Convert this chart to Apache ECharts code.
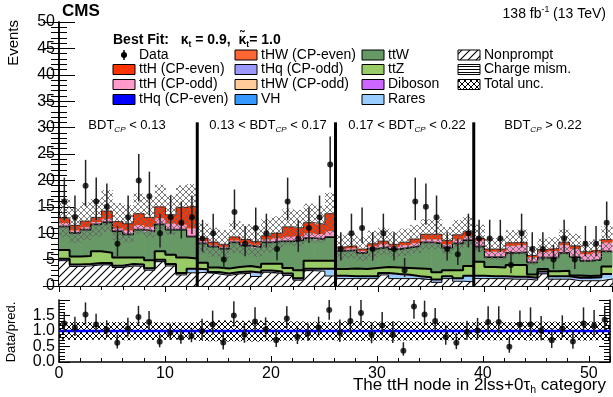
<!DOCTYPE html>
<html>
<head>
<meta charset="utf-8">
<script src="https://cdn.jsdelivr.net/npm/echarts@6/dist/echarts.min.js"></script>
<style>
  html, body { margin: 0; padding: 0; background: #fff; }
  #chart { width: 613px; height: 397px; }
</style>
</head>
<body>
<div id="chart"></div>
<script>
// ---- data (52 bins, 4 BDT_CP regions of 13 bins) ----
const dataObs = [16, 13, 19, 16, 15, 8, 13, 20, 17, 10, 13, 12, 13,
                 9, 10, 5, 14, 8, 11, 10, 7, 16, 9, 11, 13, 23,
                 7, 10, 11, 7, 10, 7, 3, 16, 15, 13, 7, 6, 10,
                 9, 9, 9, 4, 10, 7, 7, 5, 9, 5, 8, 8, 12];

const ratioObs = [1.24, 1.11, 1.53, 1.21, 1.04, 0.62, 1.08, 1.45, 1.29, 0.65, 0.94, 0.79, 0.84,
                  1.00, 1.21, 0.63, 1.50, 0.88, 1.31, 1.05, 0.70, 1.40, 0.81, 0.92, 1.11, 1.68,
                  0.94, 1.32, 1.58, 0.88, 1.18, 0.89, 0.36, 1.79, 1.53, 1.32, 0.81, 0.62, 0.97,
                  1.02, 1.29, 1.29, 0.49, 1.21, 1.21, 1.02, 0.70, 1.08, 0.66, 1.24, 1.18, 1.36];

const nonprompt = [4.8, 3.7, 3.8, 4.0, 4.0, 3.5, 3.8, 3.7, 3.0, 4.6, 3.8, 2.1, 2.5,
                   2.6, 2.3, 2.0, 2.3, 2.4, 1.8, 2.6, 2.4, 2.0, 1.1, 2.9, 2.8, 1.9,
                   1.4, 1.4, 1.4, 1.4, 2.1, 1.4, 1.4, 1.4, 1.2, 0.7, 1.4, 0.9, 0.8,
                   1.4, 1.4, 1.4, 1.3, 1.3, 1.1, 2.3, 1.3, 1.3, 1.0, 1.0, 1.0, 1.3];

const chargeMis = [0.1, 0.1, 0.1, 0.1, 0.1, 0.1, 0.1, 0.1, 0.1, 0.1, 0.1, 0.1, 0.1,
                   0.1, 0.1, 0.1, 0.1, 0.1, 0.1, 0.1, 0.1, 0.1, 0.1, 0.1, 0.1, 0.1,
                   0.1, 0.1, 0.1, 0.1, 0.1, 0.1, 0.1, 0.1, 0.1, 0.1, 0.1, 0.1, 0.1,
                   0.1, 0.1, 0.1, 0.1, 0.1, 0.1, 0.1, 0.1, 0.1, 0.1, 0.1, 0.1, 0.1];

const rares = [0.1, 0.1, 0.1, 0.1, 0.1, 0.1, 0.1, 0.1, 0.1, 0.1, 0.1, 0.1, 0.5,
               0.3, 0.1, 0.1, 0.1, 0.1, 0.5, 0.1, 0.1, 0.1, 0.1, 0.1, 0.2, 1.1,
               0.3, 0.2, 0.2, 0.2, 0.1, 0.6, 0.5, 0.2, 0.2, 0.3, 0.2, 0.3, 0.9,
               0.3, 0.2, 0.2, 0.2, 0.2, 0.2, 0.2, 0.3, 0.3, 0.3, 0.3, 0.4, 0.7];

const diboson = [0.1, 0.1, 0.1, 0.1, 0.1, 0.1, 0.1, 0.1, 0.1, 0.1, 0.1, 0.1, 0.1,
                 0.1, 0.1, 0.1, 0.1, 0.1, 0.1, 0.1, 0.1, 0.1, 0.1, 0.1, 0.1, 0.1,
                 0.1, 0.1, 0.1, 0.1, 0.1, 0.1, 0.1, 0.1, 0.1, 0.1, 0.1, 0.1, 0.1,
                 0.1, 0.1, 0.1, 0.1, 0.1, 0.1, 0.1, 0.1, 0.1, 0.1, 0.1, 0.1, 0.1];

const vh = [0.05, 0.05, 0.05, 0.05, 0.05, 0.05, 0.05, 0.05, 0.05, 0.05, 0.05, 0.05, 0.05,
            0.05, 0.05, 0.05, 0.05, 0.05, 0.05, 0.05, 0.05, 0.05, 0.05, 0.05, 0.05, 0.05,
            0.05, 0.05, 0.05, 0.05, 0.05, 0.05, 0.05, 0.05, 0.05, 0.05, 0.05, 0.05, 0.05,
            0.05, 0.05, 0.05, 0.05, 0.05, 0.05, 0.05, 0.05, 0.05, 0.05, 0.05, 0.05, 0.05];

const ttZ = [1.65, 1.55, 1.55, 2.25, 1.95, 1.55, 1.25, 1.35, 1.55, 1.65, 1.75, 2.95, 1.95,
             1.25, 0.85, 0.95, 0.95, 1.05, 0.95, 1.25, 1.45, 1.05, 1.55, 1.55, 1.55, 1.55,
             1.25, 1.45, 1.35, 1.55, 1.15, 1.25, 1.25, 1.45, 1.55, 1.35, 1.15, 1.55, 1.85,
             2.65, 1.75, 1.65, 2.25, 2.25, 0.65, 0.45, 0.95, 1.05, 0.45, 0.35, 0.35, 1.45];

const ttW = [4.4, 4.4, 4.9, 5.0, 5.7, 4.9, 4.3, 5.2, 5.4, 5.0, 4.7, 5.2, 4.1,
             3.6, 3.9, 3.7, 4.6, 3.8, 3.8, 4.0, 4.2, 5.0, 5.6, 4.2, 4.0, 4.4,
             3.4, 3.4, 3.0, 3.6, 3.7, 3.4, 3.8, 4.2, 5.0, 5.4, 4.2, 5.0, 4.8,
             2.8, 1.8, 1.9, 2.2, 2.3, 2.2, 2.1, 2.5, 3.3, 3.4, 2.8, 2.9, 2.8];

const tHW = [0.05, 0.05, 0.05, 0.05, 0.05, 0.05, 0.05, 0.05, 0.05, 0.05, 0.05, 0.05, 0.05,
             0.05, 0.05, 0.05, 0.05, 0.05, 0.05, 0.05, 0.05, 0.05, 0.05, 0.05, 0.05, 0.05,
             0.05, 0.05, 0.05, 0.05, 0.05, 0.05, 0.05, 0.05, 0.05, 0.05, 0.05, 0.05, 0.05,
             0.05, 0.05, 0.05, 0.05, 0.05, 0.05, 0.05, 0.05, 0.05, 0.05, 0.05, 0.05, 0.05];

const tHq = [0.1, 0.1, 0.1, 0.1, 0.1, 0.1, 0.1, 0.1, 0.1, 0.1, 0.1, 0.1, 0.1,
             0.1, 0.1, 0.1, 0.1, 0.1, 0.1, 0.1, 0.1, 0.1, 0.1, 0.1, 0.1, 0.1,
             0.1, 0.1, 0.1, 0.1, 0.1, 0.1, 0.1, 0.1, 0.1, 0.1, 0.1, 0.1, 0.1,
             0.1, 0.1, 0.1, 0.1, 0.1, 0.1, 0.1, 0.1, 0.1, 0.1, 0.1, 0.1, 0.1];

const ttHodd = [0.55, 0.35, 0.35, 0.35, 0.55, 0.45, 0.65, 0.75, 0.75, 1.05, 1.05, 0.85, 1.45,
                0.35, 0.25, 0.25, 0.25, 0.35, 0.35, 0.45, 0.45, 0.75, 0.65, 0.85, 0.85, 1.05,
                0.25, 0.25, 0.25, 0.35, 0.45, 0.35, 0.35, 0.45, 0.45, 0.65, 0.55, 0.65, 0.65,
                1.05, 0.95, 0.95, 1.25, 1.25, 0.85, 0.95, 1.15, 1.35, 1.45, 1.15, 1.25, 1.55];

const ttHeven = [1.0, 1.0, 1.2, 0.9, 1.5, 1.3, 1.3, 2.2, 1.8, 2.2, 1.7, 3.3, 4.2,
                 0.5, 0.5, 0.5, 0.7, 0.7, 0.6, 0.7, 1.0, 1.9, 1.6, 2.0, 1.9, 3.3,
                 0.4, 0.5, 0.4, 0.5, 0.6, 0.5, 0.6, 0.8, 1.0, 1.0, 0.7, 0.9, 0.9,
                 0.4, 0.5, 0.5, 0.6, 0.6, 0.4, 0.5, 0.5, 0.6, 0.6, 0.5, 0.5, 0.6];

// relative total uncertainty per bin
const relUnc = [0.28, 0.29, 0.29, 0.28, 0.28, 0.29, 0.30, 0.28, 0.29, 0.28, 0.28, 0.28, 0.28,
                0.32, 0.33, 0.34, 0.33, 0.33, 0.34, 0.33, 0.32, 0.31, 0.31, 0.30, 0.30, 0.29,
                0.31, 0.31, 0.32, 0.31, 0.30, 0.31, 0.31, 0.30, 0.29, 0.29, 0.30, 0.29, 0.28,
                0.29, 0.30, 0.30, 0.29, 0.29, 0.31, 0.30, 0.30, 0.29, 0.30, 0.31, 0.30, 0.29];

const categoryEdges = [13, 26, 39];
const regionLabels = [['', ' < 0.13'], ['0.13 < ', ' < 0.17'], ['0.17 < ', ' < 0.22'], ['', ' > 0.22']];
const xTicks = [0, 10, 20, 30, 40, 50];
const yTicksMain = [0, 5, 10, 15, 20, 25, 30, 35, 40, 45, 50];
const yTicksRatio = [0, 0.5, 1.0, 1.5];

const FONT = '"Liberation Sans", Arial, Helvetica, sans-serif';

// ---- fill patterns ----
function makePattern(size, draw) {
  const c = document.createElement('canvas');
  c.width = size; c.height = size;
  draw(c.getContext('2d'), size);
  return { image: c, repeat: 'repeat' };
}
const hatchDiag = makePattern(8, (ctx, s) => {
  ctx.fillStyle = '#fff'; ctx.fillRect(0, 0, s, s);
  ctx.strokeStyle = '#000'; ctx.lineWidth = 1.1;
  ctx.beginPath();
  ctx.moveTo(0, s); ctx.lineTo(s, 0);
  ctx.moveTo(-2, 2); ctx.lineTo(2, -2);
  ctx.moveTo(s - 2, s + 2); ctx.lineTo(s + 2, s - 2);
  ctx.stroke();
});
const hatchHoriz = makePattern(3, (ctx, s) => {
  ctx.fillStyle = '#fff'; ctx.fillRect(0, 0, s, s);
  ctx.fillStyle = '#000'; ctx.fillRect(0, 0, s, 1);
});
function crossPattern(color, size) {
  return makePattern(size, (ctx, s) => {
    ctx.strokeStyle = color; ctx.lineWidth = 1;
    ctx.beginPath();
    ctx.moveTo(0, 0); ctx.lineTo(s, s);
    ctx.moveTo(0, s); ctx.lineTo(s, 0);
    ctx.stroke();
  });
}
const crossGrey = crossPattern('rgba(100,100,100,0.85)', 6);
const crossBlack = crossPattern('#000', 6);

// ---- stack order (bottom -> top) ----
const stackDefs = [
  { vals: nonprompt, fill: hatchDiag },
  { vals: chargeMis, fill: hatchHoriz },
  { vals: rares, fill: '#99ccff' },
  { vals: diboson, fill: '#cc66ff' },
  { vals: vh, fill: '#3399ff' },
  { vals: ttZ, fill: '#99cc66' },
  { vals: ttW, fill: '#669966' },
  { vals: tHW, fill: '#ff6633' },
  { vals: tHq, fill: '#9999ff' },
  { vals: ttHodd, fill: '#ff99cc' },
  { vals: ttHeven, fill: '#ff3300' }
];
const cum = [];
let run = dataObs.map(() => 0);
stackDefs.forEach(d => {
  const base = run.slice();
  run = run.map((v, i) => v + d.vals[i]);
  cum.push({ base, top: run.slice(), fill: d.fill });
});
const total = run;

function rectSeries(items, fill, xi, yi, z) {
  return {
    type: 'custom', xAxisIndex: xi, yAxisIndex: yi, z, silent: true,
    data: items,
    renderItem: (params, api) => {
      const i = api.value(0);
      const p0 = api.coord([i, api.value(1)]);
      const p1 = api.coord([i + 1, api.value(2)]);
      return {
        type: 'rect',
        shape: { x: p0[0], y: p1[1], width: p1[0] - p0[0] + 0.6, height: p0[1] - p1[1] },
        style: { fill }
      };
    }
  };
}
function stepSeries(tops, width, z) {
  const pts = tops.map((v, i) => [i, v]);
  pts.push([tops.length, tops[tops.length - 1]]);
  return {
    type: 'line', step: 'end', symbol: 'none', xAxisIndex: 0, yAxisIndex: 0, z,
    silent: true, data: pts, lineStyle: { color: '#000', width }
  };
}
function errSeries(items, xi, yi, z) {
  return {
    type: 'custom', xAxisIndex: xi, yAxisIndex: yi, z, silent: true, data: items,
    renderItem: (params, api) => {
      const a = api.coord([api.value(0), api.value(1)]);
      const b = api.coord([api.value(0), api.value(2)]);
      return { type: 'line', shape: { x1: a[0], y1: a[1], x2: b[0], y2: b[1] },
               style: { stroke: '#222', lineWidth: 1.5 } };
    }
  };
}

function poisson(n) {
  const s = Math.sqrt(n + 0.25);
  return [Math.max(0, n - s + 0.5), n + s + 0.5];
}

const series = [];
cum.forEach(c => {
  series.push(rectSeries(c.base.map((b, i) => [i, b, c.top[i]]), c.fill, 0, 0, 2));
});
// outlines
series.push(stepSeries(cum[0].top, 1, 3));
series.push(stepSeries(cum[4].top, 2, 3));
series.push(stepSeries(cum[5].top, 2, 3));
series.push(stepSeries(cum[6].top, 1, 3));
series.push(stepSeries(cum[8].top, 0.8, 3));
series.push(stepSeries(total, 0.8, 3));
// uncertainty band
series.push(rectSeries(total.map((t, i) => [i, t * (1 - relUnc[i]), t * (1 + relUnc[i])]), crossGrey, 0, 0, 4));
// category separators
series.push({
  type: 'custom', xAxisIndex: 0, yAxisIndex: 0, z: 5, silent: true,
  data: categoryEdges.map(e => [e]),
  renderItem: (params, api) => {
    const a = api.coord([api.value(0), 0]);
    const b = api.coord([api.value(0), 31]);
    return { type: 'line', shape: { x1: a[0], y1: a[1], x2: b[0], y2: b[1] },
             style: { stroke: '#000', lineWidth: 3 } };
  }
});
// data
series.push(errSeries(dataObs.map((n, i) => { const p = poisson(n); return [i + 0.5, p[0], p[1]]; }), 0, 0, 6));
series.push({
  type: 'scatter', xAxisIndex: 0, yAxisIndex: 0, z: 7, silent: true, symbolSize: 6,
  itemStyle: { color: '#000' }, data: dataObs.map((n, i) => [i + 0.5, n])
});

// ratio panel
series.push(rectSeries(relUnc.map((u, i) => [i, 1 - u, 1 + u]), crossBlack, 1, 1, 2));
series.push({
  type: 'line', xAxisIndex: 1, yAxisIndex: 1, z: 3, symbol: 'none', silent: true,
  data: [[0, 1], [52, 1]], lineStyle: { color: '#0000ff', width: 2.5 }
});
series.push(errSeries(ratioObs.map((r, i) => {
  const p = poisson(dataObs[i]);
  return [i + 0.5, Math.max(0, r * p[0] / dataObs[i]), Math.min(2, r * p[1] / dataObs[i])];
}), 1, 1, 4));
series.push({
  type: 'scatter', xAxisIndex: 1, yAxisIndex: 1, z: 5, silent: true, symbolSize: 6,
  itemStyle: { color: '#000' }, data: ratioObs.map((r, i) => [i + 0.5, r])
});

// ---- axes ----
const lineBlack = { show: true, lineStyle: { color: '#000', width: 1.5 } };
function xAxisDef(grid, pos, showLabels) {
  return {
    type: 'value', gridIndex: grid, position: pos, min: 0, max: 52, interval: 10,
    axisLine: lineBlack,
    axisTick: { show: true, inside: true, length: grid === 0 ? 8 : 6, lineStyle: { color: '#000' } },
    minorTick: { show: true, splitNumber: 5, length: 4, lineStyle: { color: '#000' } },
    splitLine: { show: false },
    axisLabel: {
      show: showLabels, color: '#000', fontSize: 16, fontFamily: FONT, margin: 4,
      showMinLabel: true, hideOverlap: false,
      formatter: v => (xTicks.indexOf(v) >= 0 ? String(v) : '')
    }
  };
}
function yAxisDef(grid, pos, min, max, interval, majorLen, minorLen) {
  return {
    type: 'value', gridIndex: grid, position: pos, min, max, interval,
    axisLine: lineBlack,
    axisTick: { show: true, inside: true, length: majorLen, lineStyle: { color: '#000' } },
    minorTick: { show: true, splitNumber: 5, length: minorLen, lineStyle: { color: '#000' } },
    splitLine: { show: false },
    axisLabel: { show: false }
  };
}

// ---- legend / labels ----
const legendRows = [55, 69.5, 84.5, 99.5];
const legendCols = [
  { x: 113, items: [['Data', 'data'], ['ttH (CP-even)', '#ff3300'], ['ttH (CP-odd)', '#ff99cc'], ['tHq (CP-even)', '#0000ff']] },
  { x: 235, items: [['tHW (CP-even)', '#ff6633'], ['tHq (CP-odd)', '#9999ff'], ['tHW (CP-odd)', '#ffcc99'], ['VH', '#3399ff']] },
  { x: 362, items: [['ttW', '#669966'], ['ttZ', '#99cc66'], ['Diboson', '#cc66ff'], ['Rares', '#99ccff']] },
  { x: 458, items: [['Nonprompt', hatchDiag], ['Charge mism.', hatchHoriz], ['Total unc.', crossBlack]] }
];
const graphic = [];
legendCols.forEach(col => {
  col.items.forEach((it, r) => {
    const y = legendRows[r];
    if (it[1] === 'data') {
      graphic.push({ type: 'line', shape: { x1: col.x + 11, y1: y - 5, x2: col.x + 11, y2: y + 5 }, style: { stroke: '#000', lineWidth: 1.5 } });
      graphic.push({ type: 'circle', shape: { cx: col.x + 11, cy: y, r: 3 }, style: { fill: '#000' } });
    } else {
      graphic.push({ type: 'rect', shape: { x: col.x, y: y - 5, width: 22, height: 10 },
                     style: { fill: it[1], stroke: '#000', lineWidth: 1 } });
    }
    graphic.push({ type: 'text', style: { x: col.x + 26, y, text: it[0], font: '14px ' + FONT, fill: '#000', verticalAlign: 'middle' } });
  });
});

function rich(size, bold) {
  return {
    m: { fontSize: size, fontFamily: FONT, fontWeight: bold ? 'bold' : 'normal', lineHeight: size + 4, fill: '#000', color: '#000' },
    s: { fontSize: size * 0.62, fontFamily: FONT, fontWeight: bold ? 'bold' : 'normal', lineHeight: size * 0.8, verticalAlign: 'bottom', fill: '#000', color: '#000' },
    si: { fontSize: size * 0.62, fontFamily: FONT, fontStyle: 'italic', lineHeight: size * 0.8, verticalAlign: 'bottom', fill: '#000', color: '#000' },
    u: { fontSize: size * 0.62, fontFamily: FONT, lineHeight: size * 0.9, verticalAlign: 'top', fill: '#000', color: '#000' }
  };
}
graphic.push({ type: 'text', style: { x: 113, y: 40, verticalAlign: 'middle', rich: rich(14, true),
  text: '{m|Best Fit:   κ}{s|t}{m| = 0.9,  κ\u0303}{s|t}{m|= 1.0}' } });
graphic.push({ type: 'text', style: { x: 62, y: 11, verticalAlign: 'middle', text: 'CMS', font: 'bold 17px ' + FONT, fill: '#000' } });
graphic.push({ type: 'text', style: { x: 606, y: 14, align: 'right', verticalAlign: 'middle', rich: rich(14, false),
  text: '{m|138 fb}{u|-1}{m| (13 TeV)}' } });
graphic.push({ type: 'text', rotation: Math.PI / 2, x: 14, y: 20, style: { x: 0, y: 0, align: 'right', verticalAlign: 'middle',
  text: 'Events', font: '15px ' + FONT, fill: '#000' } });
graphic.push({ type: 'text', rotation: Math.PI / 2, x: 11, y: 332, style: { x: 0, y: 0, align: 'center', verticalAlign: 'middle',
  text: 'Data/pred.', font: '13px ' + FONT, fill: '#000' } });
graphic.push({ type: 'text', style: { x: 606, y: 385, align: 'right', verticalAlign: 'middle', rich: rich(17, false),
  text: '{m|The ttH node in 2lss+0τ}{s|h}{m| category}' } });
const regionCenters = [127, 268, 407, 543];
regionLabels.forEach((l, k) => {
  graphic.push({ type: 'text', style: { x: regionCenters[k], y: 125, align: 'center', verticalAlign: 'middle', rich: rich(13, false),
    text: (l[0] ? '{m|' + l[0] + 'BDT}' : '{m|BDT}') + '{si|CP}{m|' + l[1] + '}' } });
});

const chart = echarts.init(document.getElementById('chart'), null, { renderer: 'canvas' });
chart.setOption({
  animation: false,
  backgroundColor: '#fff',
  grid: [
    { left: 59, top: 22, width: 553, height: 264 },
    { left: 59, top: 300, width: 553, height: 62 }
  ],
  xAxis: [
    xAxisDef(0, 'bottom', false),
    xAxisDef(1, 'bottom', true),
    Object.assign(xAxisDef(0, 'top', false), { axisTick: { show: true, inside: true, length: 6, lineStyle: { color: '#000' } } })
  ],
  yAxis: [
    yAxisDef(0, 'left', 0, 50, 5, 16, 8),
    yAxisDef(1, 'left', 0, 2, 0.5, 11, 6),
    yAxisDef(0, 'right', 0, 50, 5, 16, 8),
    yAxisDef(1, 'right', 0, 2, 0.5, 11, 6)
  ],
  series
});

// y tick labels placed through the axes' own scales
yTicksMain.forEach(v => {
  const y = chart.convertToPixel({ yAxisIndex: 0 }, v);
  graphic.push({ type: 'text', style: { x: 55, y, align: 'right', verticalAlign: 'middle', text: String(v), font: '16px ' + FONT, fill: '#000' } });
});
yTicksRatio.forEach(v => {
  const y = chart.convertToPixel({ yAxisIndex: 1 }, v);
  graphic.push({ type: 'text', style: { x: 55, y, align: 'right', verticalAlign: 'middle', text: v.toFixed(1), font: '16px ' + FONT, fill: '#000' } });
});
chart.setOption({ graphic });
</script>
</body>
</html>
